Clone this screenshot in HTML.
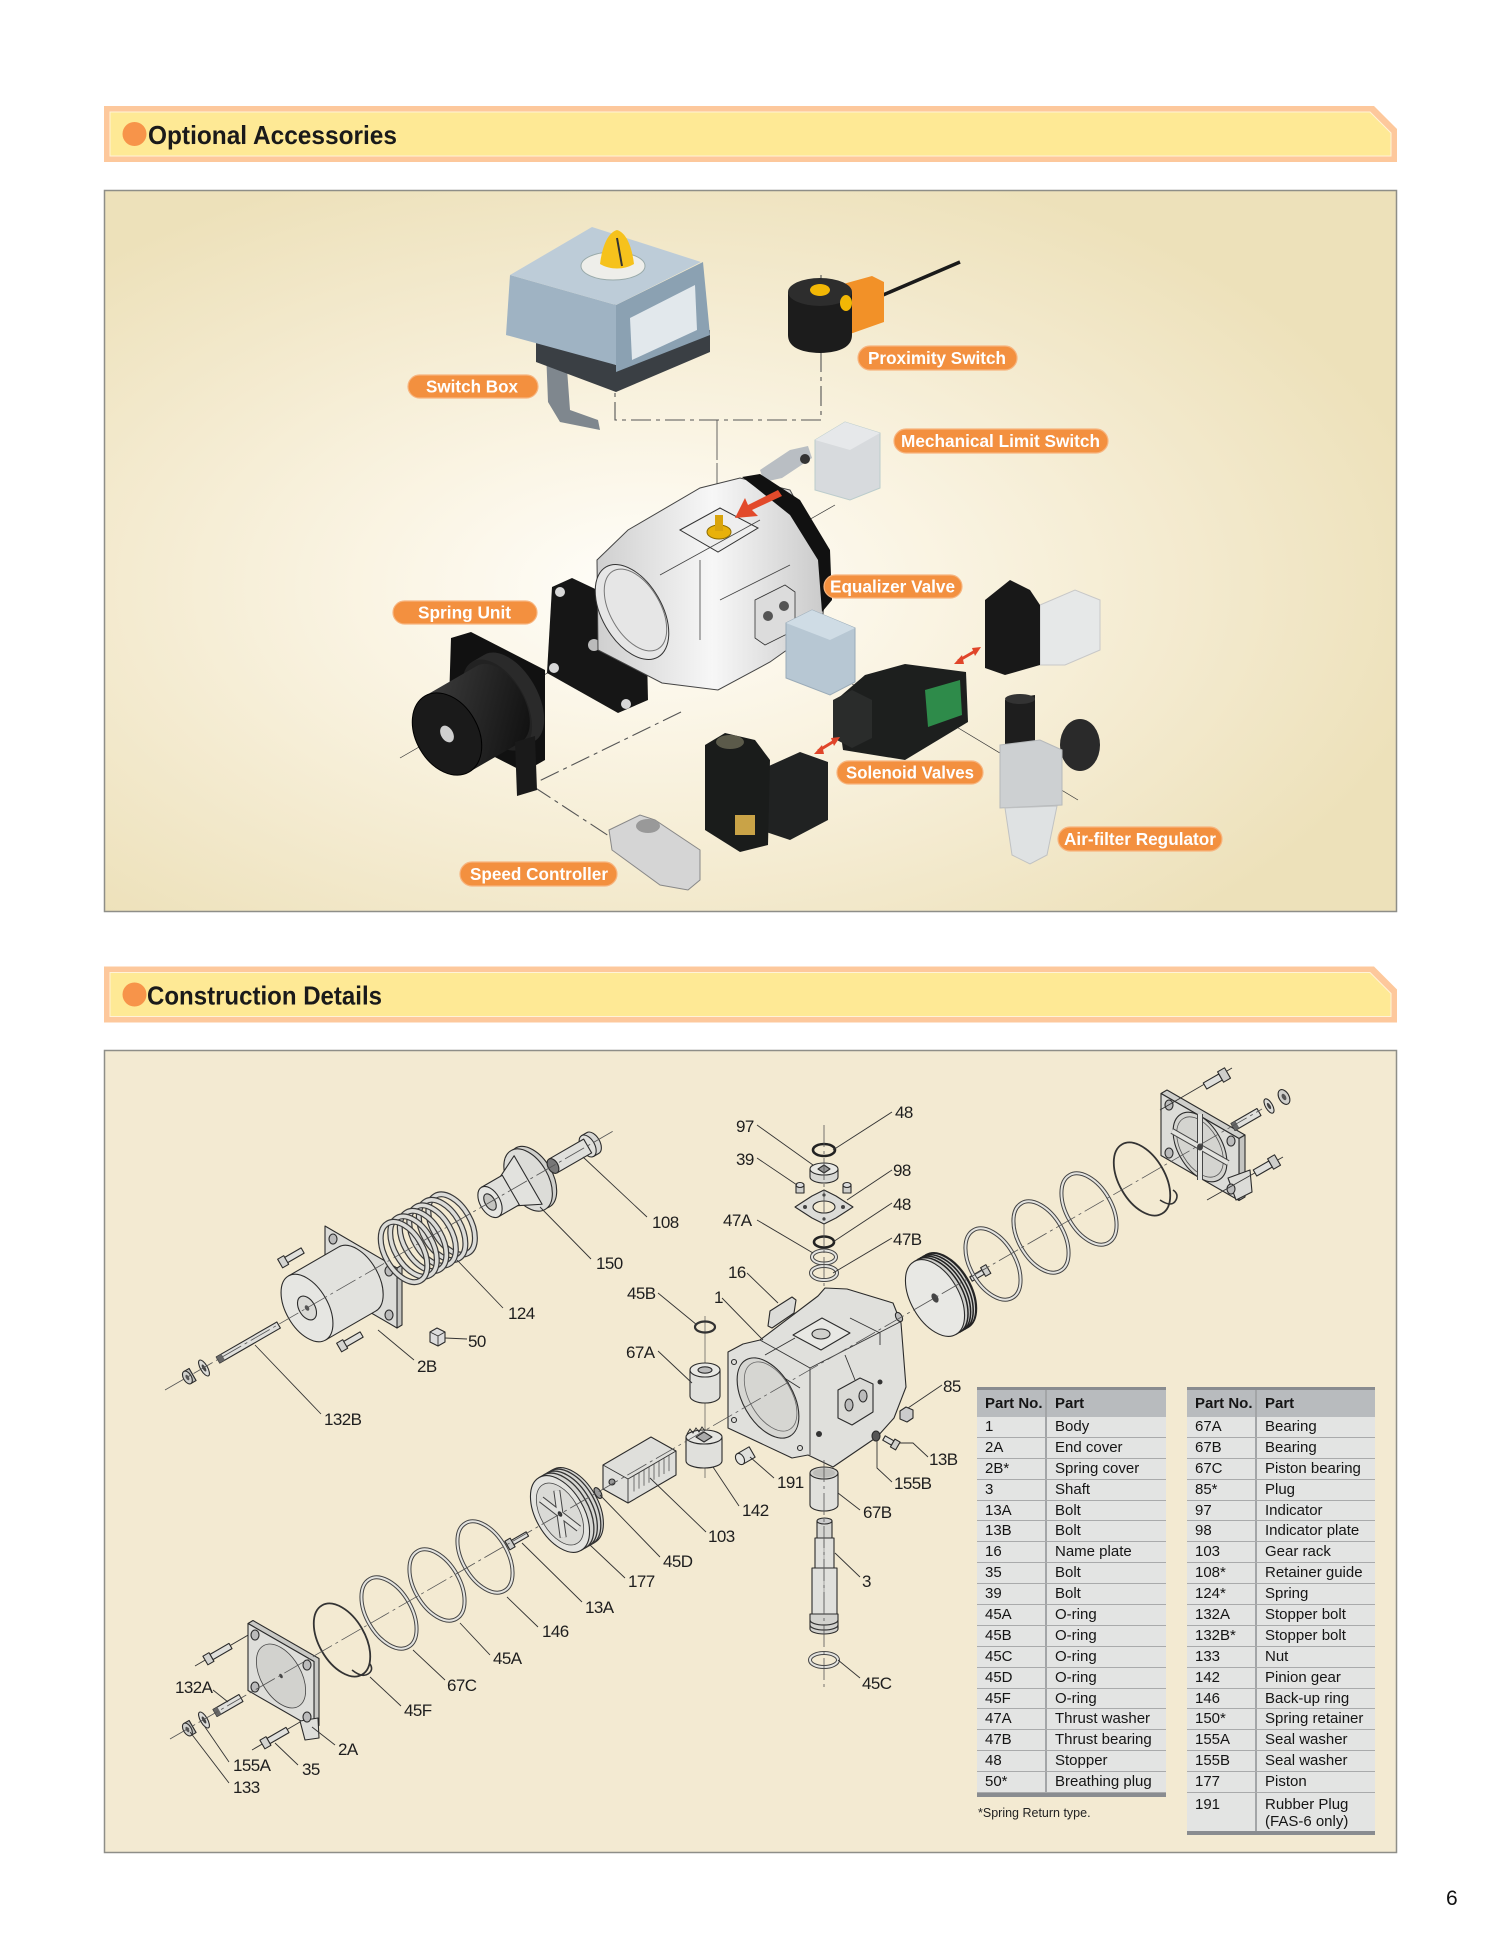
<!DOCTYPE html>
<html><head><meta charset="utf-8">
<style>
html,body{margin:0;padding:0;background:#fff;}
body{width:1500px;height:1953px;position:relative;overflow:hidden;font-family:"Liberation Sans",Arial,sans-serif;}
svg{position:absolute;left:0;top:0;}
.tb{position:absolute;font-size:15px;color:#151515;}
.tb .h{height:27px;border-top:3px solid #898c90;background:#b8bbbe;font-weight:bold;display:flex;line-height:28px;}
.tb .r{height:19.9px;border-bottom:1px solid #a9aaab;background:#e3e4e3;display:flex;line-height:20px;}
.tb .c1{width:70px;flex:none;padding-left:8px;border-right:2px solid #a3a5a7;box-sizing:border-box;}
.tb .c2{padding-left:8px;white-space:nowrap;}
.tb .end{height:4px;background:#898c90;}
.note{position:absolute;left:978px;top:1806px;font-size:12.5px;color:#222;}
.pg{position:absolute;left:1446px;top:1887px;font-size:21px;color:#111;}
</style></head><body>
<svg width="1500" height="1953" viewBox="0 0 1500 1953" xmlns="http://www.w3.org/2000/svg" font-family="Liberation Sans, Arial, sans-serif">
<defs>
<radialGradient id="g1" cx="0.42" cy="0.55" r="0.62" fx="0.42" fy="0.55">
<stop offset="0" stop-color="#fffefa"/><stop offset="0.35" stop-color="#faf4e3"/><stop offset="0.75" stop-color="#f2e8ca"/><stop offset="1" stop-color="#ede1ba"/>
</radialGradient>
<linearGradient id="gb" x1="0" y1="0" x2="1" y2="0"><stop offset="0" stop-color="#cfcfcf"/><stop offset="0.5" stop-color="#f7f7f7"/><stop offset="1" stop-color="#c9c9c9"/></linearGradient>
<linearGradient id="gk" x1="0" y1="0" x2="1" y2="1"><stop offset="0" stop-color="#3c3c3c"/><stop offset="1" stop-color="#0d0d0d"/></linearGradient>
<style>
.o{stroke:#2b2b2b;stroke-width:1.1;stroke-linejoin:round}
.f{fill:#e0e0dc}
.ld{stroke:#333;stroke-width:0.9;fill:none}
.ax{stroke:#555;stroke-width:0.8;fill:none;stroke-dasharray:22 4 3 4}
.lb{font-size:17px;fill:#1e1e1e;letter-spacing:-0.6px}
.pl{font-size:17.5px;font-weight:bold;fill:#fff}
.pr{fill:#f3903f;stroke:#f7b47e;stroke-width:1.2}
.dd{stroke:#555;stroke-width:1.1;fill:none;stroke-dasharray:20 5 4 5}
.bd{fill:none;stroke:#444;stroke-width:4}
.bl{fill:none;stroke:#e4e4e0;stroke-width:2}
</style>
</defs>

<!-- Header 1 -->
<path d="M104,106 H1374 L1397,129 V162 H104 Z" fill="#fdc89c"/>
<path d="M110,112 H1370 L1391,133 V156 H110 Z" fill="#fee995" stroke="#fff3d8" stroke-width="1"/>
<circle cx="134.5" cy="134" r="12" fill="#f7944a"/>
<text x="148" y="144" font-size="26" font-weight="bold" textLength="249" lengthAdjust="spacingAndGlyphs" fill="#1a1a1a">Optional Accessories</text>

<!-- Panel 1 -->
<rect x="104.5" y="190.5" width="1292" height="721" fill="url(#g1)" stroke="#8e8e88" stroke-width="1.5"/>

<!-- ===== Accessories drawings ===== -->
<polyline class="dd" points="615,300 615,420 821,420 821,272"/>
<line x1="717" y1="420" x2="717" y2="515" stroke="#555" stroke-width="0.9" stroke-dasharray="40 3"/>
<polyline class="dd" points="681,712 531,785 612,838"/>
<line x1="400" y1="758" x2="700" y2="585" stroke="#333" stroke-width="0.7"/>
<line x1="740" y1="615" x2="862" y2="690" stroke="#333" stroke-width="0.7"/>
<line x1="945" y1="720" x2="1078" y2="800" stroke="#333" stroke-width="0.7"/>
<line x1="800" y1="525" x2="835" y2="505" stroke="#333" stroke-width="0.7"/>

<!-- Switch box -->
<polygon points="546,350 566,355 570,410 598,420 600,430 560,422 548,402" fill="#7f878e"/>
<polygon points="536,337 616,365 710,330 710,352 616,392 536,362" fill="#3a3f44"/>
<polygon points="510,275 616,305 616,365 506,335" fill="#9fb3c3"/>
<polygon points="616,305 703,262 710,335 616,372" fill="#8ba1b2"/>
<polygon points="630,318 695,285 697,330 632,360" fill="#e2e8ec"/>
<polygon points="510,275 592,227 701,262 616,305" fill="#bdccd8"/>
<ellipse cx="613" cy="266" rx="32" ry="14" fill="#eeeeea" stroke="#9aa" stroke-width="1"/>
<path d="M600,264 C602,248 607,233 617,230 C627,233 632,248 634,264 C624,270 610,270 600,264 Z" fill="#f6c21c"/>
<line x1="617" y1="238" x2="622" y2="266" stroke="#333" stroke-width="2"/>

<!-- Proximity switch -->
<line x1="876" y1="298" x2="960" y2="262" stroke="#1a1a1a" stroke-width="3.5"/>
<polygon points="836,286 872,276 884,282 884,322 850,334 836,330" fill="#f29128"/>
<path d="M788,292 L788,335 Q788,352 820,353 Q852,352 852,335 L852,292 Z" fill="#1c1c1c"/>
<ellipse cx="820" cy="292" rx="32" ry="14" fill="#2d2d2d"/>
<ellipse cx="820" cy="290" rx="10" ry="6" fill="#f2b705"/>
<ellipse cx="846" cy="303" rx="6" ry="8" fill="#f2b705"/>

<!-- Mechanical limit switch -->
<polygon points="760,470 790,450 808,446 812,458 782,478 764,482" fill="#b9bec3"/>
<polygon points="815,440 845,422 880,433 880,488 850,500 815,490" fill="#d7dadd" stroke="#bcc" stroke-width="1"/>
<polygon points="815,440 845,422 880,433 850,450" fill="#e6e8ea"/>
<circle cx="805" cy="459" r="5" fill="#333"/>

<!-- Spring unit (black) -->
<polygon points="552,587 572,578 646,613 648,700 618,713 547,673" fill="#161616"/>
<circle cx="560" cy="592" r="5" fill="#d8d8d8"/>
<circle cx="640" cy="625" r="5" fill="#d8d8d8"/>
<circle cx="626" cy="704" r="5" fill="#d8d8d8"/>
<circle cx="554" cy="668" r="5" fill="#d8d8d8"/>
<circle cx="594" cy="645" r="6" fill="#bbb"/>
<polygon points="451,638 471,632 545,670 545,760 524,772 448,733" fill="#111"/>
<g transform="translate(447,734) rotate(-30)">
<path d="M58,-50 L72,-50 A28,50 0 0 1 72,50 L58,50 Z" fill="#2a2a2a"/>
<ellipse cx="58" rx="28" ry="50" fill="#222"/>
<path d="M0,-44 L60,-44 A25,44 0 0 1 60,44 L0,44 Z" fill="url(#gk)"/>
<ellipse cx="0" rx="31" ry="44" fill="#1a1a1a" stroke="#000"/>
<ellipse cx="0" rx="6" ry="9" fill="#cfcfcf"/>
</g>
<polygon points="515,742 535,736 537,790 517,796" fill="#1a1a1a"/>

<!-- Main actuator body -->
<polygon points="597,560 628,530 700,488 740,478 790,490 828,560 822,625 770,662 718,690 662,683 598,650" fill="url(#gb)" stroke="#444" stroke-width="1"/>
<path d="M742,477 L760,474 L800,500 L830,550 L832,600 L822,612 L818,560 L790,515 L755,487 Z" fill="#111"/>
<g transform="translate(632,612) rotate(-30)"><ellipse rx="30" ry="52" fill="#e6e6e6" stroke="#333"/><ellipse cx="4" rx="25" ry="45" fill="none" stroke="#777"/></g>
<polygon points="680,530 720,508 758,528 718,552" fill="#eeeeee" stroke="#333"/>
<ellipse cx="719" cy="532" rx="12" ry="7" fill="#e8b10a" stroke="#8a6a00"/>
<rect x="715" y="515" width="8" height="16" fill="#d9a40c"/>
<polygon points="778,490 748,505 745,498 735,518 758,516 752,510 782,496" fill="#e24a2b"/>
<polygon points="755,600 785,585 795,592 795,630 765,645 755,638" fill="#dcdcdc" stroke="#333" stroke-width="0.8"/>
<circle cx="768" cy="616" r="5" fill="#555"/><circle cx="784" cy="606" r="5" fill="#555"/>
<path d="M700,560 L700,640 M660,575 L760,520 M720,600 L790,565" stroke="#444" stroke-width="0.8" fill="none"/>

<!-- Equalizer valve -->
<polygon points="786,623 812,610 855,628 855,682 830,695 786,678" fill="#b7c7d3" stroke="#9aabb8"/>
<polygon points="786,623 812,610 855,628 830,640" fill="#cfdce5"/>

<!-- Center solenoid -->
<polygon points="836,700 865,675 905,664 966,672 968,722 905,760 843,750" fill="#1d1f1e"/>
<polygon points="925,690 960,680 962,715 928,727" fill="#2e8b4a"/>
<polygon points="833,700 852,690 872,700 872,738 852,748 833,738" fill="#2a2c2b"/>
<!-- Top-right solenoid -->
<polygon points="1040,605 1075,590 1100,600 1100,650 1065,665 1040,665" fill="#e6e8e8" stroke="#c8c8c8"/>
<polygon points="985,600 1010,580 1030,590 1040,605 1040,665 1005,675 985,668" fill="#181818"/>
<!-- Lower-left solenoid -->
<polygon points="760,770 800,752 828,762 828,820 790,840 760,830" fill="#202222"/>
<polygon points="705,745 725,733 755,740 770,760 768,845 740,852 705,830" fill="#1a1c1b"/>
<ellipse cx="730" cy="742" rx="14" ry="7" fill="#5b5a4a"/>
<rect x="735" y="815" width="20" height="20" fill="#c9a347"/>
<!-- Air filter regulator -->
<ellipse cx="1080" cy="745" rx="20" ry="26" fill="#2a2a2a"/>
<polygon points="1005,700 1035,695 1035,745 1005,748" fill="#1e1e1e"/>
<ellipse cx="1020" cy="699" rx="15" ry="5" fill="#333"/>
<polygon points="1000,745 1040,740 1062,750 1062,805 1000,808" fill="#cdd0d2" stroke="#b5b8ba"/>
<path d="M1005,808 L1057,806 L1047,855 L1030,864 L1012,855 Z" fill="#dfe2e3" stroke="#c0c2c3"/>
<!-- Speed controller -->
<polygon points="609,830 640,815 655,820 700,850 700,880 688,890 660,885 612,850" fill="#d5d5d5" stroke="#888"/>
<ellipse cx="648" cy="826" rx="12" ry="7" fill="#999"/>
<!-- red double arrows -->
<g stroke="#e0452a" stroke-width="3" fill="#e0452a">
<line x1="958" y1="661" x2="977" y2="650"/>
<polygon points="954,664 962,655 964,664" stroke="none"/><polygon points="981,647 972,648 975,656" stroke="none"/>
<line x1="818" y1="751" x2="836" y2="740"/>
<polygon points="814,754 822,745 824,754" stroke="none"/><polygon points="840,737 831,738 834,746" stroke="none"/>
</g>

<!-- pill labels -->
<rect class="pr" x="408" y="375" width="130" height="23" rx="11.5"/>
<text class="pl" x="426" y="392.5" textLength="92" lengthAdjust="spacingAndGlyphs">Switch Box</text>
<rect class="pr" x="858" y="346" width="159" height="24" rx="12"/>
<text class="pl" x="868" y="364" textLength="138" lengthAdjust="spacingAndGlyphs">Proximity Switch</text>
<rect class="pr" x="894" y="429" width="214" height="24" rx="12"/>
<text class="pl" x="901" y="447" textLength="199" lengthAdjust="spacingAndGlyphs">Mechanical Limit Switch</text>
<rect class="pr" x="824" y="575" width="138" height="23" rx="11.5"/>
<text class="pl" x="830" y="592.5" textLength="125" lengthAdjust="spacingAndGlyphs">Equalizer Valve</text>
<rect class="pr" x="393" y="601" width="144" height="23" rx="11.5"/>
<text class="pl" x="418" y="618.5" textLength="93" lengthAdjust="spacingAndGlyphs">Spring Unit</text>
<rect class="pr" x="837" y="761" width="146" height="23" rx="11.5"/>
<text class="pl" x="846" y="778.5" textLength="128" lengthAdjust="spacingAndGlyphs">Solenoid Valves</text>
<rect class="pr" x="1058" y="827" width="164" height="24" rx="12"/>
<text class="pl" x="1064" y="845" textLength="152" lengthAdjust="spacingAndGlyphs">Air-filter Regulator</text>
<rect class="pr" x="460" y="862" width="157" height="24" rx="12"/>
<text class="pl" x="470" y="880" textLength="138" lengthAdjust="spacingAndGlyphs">Speed Controller</text>

<!-- Header 2 -->
<path d="M104,966.5 H1374 L1397,989.5 V1022.5 H104 Z" fill="#fdc89c"/>
<path d="M110,972.5 H1370 L1391,993.5 V1016.5 H110 Z" fill="#fee995" stroke="#fff3d8" stroke-width="1"/>
<circle cx="134.5" cy="994.5" r="12" fill="#f7944a"/>
<text x="147" y="1004.5" font-size="26" font-weight="bold" textLength="235" lengthAdjust="spacingAndGlyphs" fill="#1a1a1a">Construction Details</text>

<!-- Panel 2 -->
<rect x="104.5" y="1050.5" width="1292" height="802" fill="#f3ead2" stroke="#8e8e88" stroke-width="1.5"/>

<!-- ===== Spring assembly (upper axis) ===== -->
<g transform="translate(190,1376) rotate(-30)">
<rect x="-3" y="-7" width="6" height="14" fill="#bdbdb9" class="o"/>
<ellipse cx="-3" rx="4" ry="7" fill="#d0d0cc" class="o"/><ellipse cx="-3" rx="1.5" ry="3" fill="#555"/>
</g>
<g transform="translate(204,1368) rotate(-30)"><ellipse rx="3.5" ry="9" fill="#dcdcd8" class="o"/><ellipse rx="1.5" ry="4" fill="#444"/></g>
<g transform="translate(218,1360) rotate(-30)"><rect x="0" y="-3.5" width="70" height="7" class="o f"/><rect x="0" y="-3.5" width="6" height="7" fill="#666"/></g>
<polygon points="397,1268 402,1265 402,1325 397,1328" fill="#c4c4c0" class="o"/>
<polygon points="325,1226 397,1268 397,1328 325,1286" fill="#dcdcd8" class="o"/>
<ellipse cx="333" cy="1239" rx="4" ry="5" fill="#bbb" class="o"/>
<ellipse cx="389" cy="1271" rx="4" ry="5" fill="#bbb" class="o"/>
<ellipse cx="389" cy="1315" rx="4" ry="5" fill="#bbb" class="o"/>
<ellipse cx="333" cy="1283" rx="4" ry="5" fill="#bbb" class="o"/>
<ellipse cx="371" cy="1305" rx="6" ry="7" fill="#d4d4d0" class="o"/>
<g transform="translate(307,1308) rotate(-30)">
<path d="M0,-37 L58,-37 A21,37 0 0 1 58,37 L0,37 Z" fill="#e2e2de" class="o"/>
<ellipse rx="21" ry="37" fill="#e6e6e2" class="o"/>
<ellipse rx="8" ry="13" fill="#dadad6" class="o"/>
<ellipse rx="2" ry="3" fill="#555"/>
</g>
<g transform="translate(281,1263) rotate(-30)"><rect x="5" y="-3" width="20" height="6" class="o f"/><rect x="-1" y="-5" width="7" height="10" class="o" fill="#d4d4d0"/></g>
<g transform="translate(340,1347) rotate(-30)"><rect x="5" y="-3" width="20" height="6" class="o f"/><rect x="-1" y="-5" width="7" height="10" class="o" fill="#d4d4d0"/></g>
<polygon points="430,1332 437,1328 445,1332 445,1342 438,1346 430,1342" fill="#ddd" class="o"/>
<line x1="430" y1="1332" x2="438" y2="1336" class="ld"/><line x1="438" y1="1336" x2="445" y2="1332" class="ld"/><line x1="438" y1="1336" x2="438" y2="1346" class="ld"/>
<g transform="translate(404,1252) rotate(-30)" fill="none">
<ellipse cx="55" rx="19" ry="33" stroke="#3a3a3a" stroke-width="6"/><ellipse cx="55" rx="19" ry="33" stroke="#dcdcd8" stroke-width="3.6"/>
<ellipse cx="44" rx="19" ry="33" stroke="#3a3a3a" stroke-width="6"/><ellipse cx="44" rx="19" ry="33" stroke="#dcdcd8" stroke-width="3.6"/>
<ellipse cx="33" rx="19" ry="33" stroke="#3a3a3a" stroke-width="6"/><ellipse cx="33" rx="19" ry="33" stroke="#dcdcd8" stroke-width="3.6"/>
<ellipse cx="22" rx="19" ry="33" stroke="#3a3a3a" stroke-width="6"/><ellipse cx="22" rx="19" ry="33" stroke="#dcdcd8" stroke-width="3.6"/>
<ellipse cx="11" rx="19" ry="33" stroke="#3a3a3a" stroke-width="6"/><ellipse cx="11" rx="19" ry="33" stroke="#dcdcd8" stroke-width="3.6"/>
<ellipse cx="0" rx="19" ry="33" stroke="#3a3a3a" stroke-width="6"/><ellipse cx="0" rx="19" ry="33" stroke="#dcdcd8" stroke-width="3.6"/>
</g>
<g transform="translate(490,1202) rotate(-30)">
<ellipse cx="49" rx="20" ry="34" class="o" fill="#cfcfcb"/>
<ellipse cx="44" rx="20" ry="34" class="o" fill="#dcdcd8"/>
<path d="M22,-17 L44,-28 L44,28 L22,17 Z" class="o" fill="#e2e2de"/>
<path d="M0,-17 L24,-17 L24,17 L0,17 Z" class="o f"/>
<ellipse rx="10" ry="17" class="o" fill="#e6e6e2"/>
<ellipse rx="5" ry="9" class="o" fill="#c4c4c0"/>
</g>
<g transform="translate(553,1166) rotate(-30)">
<path d="M40,-12 L46,-12 A7,12 0 0 1 46,12 L40,12 Z" class="o" fill="#d8d8d4"/>
<ellipse cx="40" rx="7" ry="12" class="o f"/>
<path d="M0,-8 L40,-8 L40,8 L0,8 Z" class="o f"/>
<ellipse rx="5" ry="8" class="o" fill="#777"/>
</g>

<!-- ===== Lower axis assembly ===== -->
<g transform="translate(190,1728) rotate(-30)">
<rect x="-3" y="-7" width="6" height="14" fill="#bdbdb9" class="o"/>
<ellipse cx="-3" rx="4" ry="7" fill="#d0d0cc" class="o"/><ellipse cx="-3" rx="1.5" ry="3" fill="#555"/>
</g>
<g transform="translate(204,1720) rotate(-30)"><ellipse rx="3.5" ry="9" fill="#dcdcd8" class="o"/><ellipse rx="1.5" ry="4" fill="#444"/></g>
<g transform="translate(215,1713) rotate(-30)"><rect x="0" y="-4" width="30" height="8" class="o f"/><rect x="0" y="-4" width="5" height="8" fill="#666"/></g>
<line x1="195" y1="1666" x2="262" y2="1627" class="ld" stroke-width="0.6"/>
<line x1="252" y1="1750" x2="300" y2="1722" class="ld" stroke-width="0.6"/>
<g transform="translate(208,1659) rotate(-30)"><rect x="4" y="-3" width="22" height="6" class="o f"/><rect x="-3" y="-5" width="7" height="10" class="o" fill="#d4d4d0"/></g>
<g transform="translate(265,1743) rotate(-30)"><rect x="4" y="-3" width="22" height="6" class="o f"/><rect x="-3" y="-5" width="7" height="10" class="o" fill="#d4d4d0"/></g>
<polygon points="253,1620.5 319,1658.5 319,1725.5 314,1728.5 314,1661.5 248,1623.5" fill="#c9c9c5" class="o"/>
<polygon points="248,1623.5 314,1661.5 314,1728.5 248,1690.5" fill="#dededa" class="o"/>
<polygon points="300,1721 318,1718 319,1738 305,1740" fill="#dededa" class="o"/>
<g transform="translate(281,1676) rotate(-30)"><ellipse rx="20" ry="35" fill="#d2d2ce" stroke="#444" stroke-width="0.8"/><ellipse rx="1.5" ry="2.5" fill="#444"/></g>
<ellipse cx="255" cy="1635" rx="4" ry="5" fill="#bbb" class="o"/>
<ellipse cx="307" cy="1665" rx="4" ry="5" fill="#bbb" class="o"/>
<ellipse cx="307" cy="1717" rx="4" ry="5" fill="#bbb" class="o"/>
<ellipse cx="255" cy="1687" rx="4" ry="5" fill="#bbb" class="o"/>
<g transform="translate(342,1640) rotate(-30)"><ellipse rx="23" ry="40" fill="none" stroke="#333" stroke-width="1.8"/></g>
<path d="M352,1670 q10,8 16,4 q6,-4 2,-10" fill="none" stroke="#333" stroke-width="1.6"/>
<g transform="translate(389,1613) rotate(-30)"><ellipse rx="22.5" ry="39" class="bd" stroke-width="4.2"/><ellipse rx="22.5" ry="39" class="bl" stroke-width="2.2"/></g>
<g transform="translate(437,1585) rotate(-30)"><ellipse rx="22.5" ry="39" class="bd" stroke-width="4.2"/><ellipse rx="22.5" ry="39" class="bl" stroke-width="2.2"/></g>
<g transform="translate(485,1557) rotate(-30)"><ellipse rx="22.5" ry="39" class="bd" stroke-width="3.2"/><ellipse rx="22.5" ry="39" class="bl" stroke-width="1.2"/></g>
<g transform="translate(510,1544) rotate(-30)"><rect x="3" y="-2.5" width="17" height="5" class="o f"/><rect x="-3" y="-5" width="6" height="10" class="o" fill="#cfcfcb"/></g>
<g transform="translate(560,1514) rotate(-30)">
<path d="M0,-42 L16,-42 A24,42 0 0 1 16,42 L0,42 Z" class="o" fill="#d6d6d2"/>
<path d="M5,-42 A24,42 0 0 1 5,42 M9,-42 A24,42 0 0 1 9,42 M13,-42 A24,42 0 0 1 13,42" fill="none" stroke="#333" stroke-width="1.3"/>
<ellipse rx="24" ry="42" class="o" fill="#e4e4e0"/>
<ellipse rx="19" ry="34" fill="#dadad6" stroke="#444" stroke-width="0.8"/>
<path d="M-9,-22 L9,22 M9,-22 L-9,22" stroke="#444" stroke-width="7"/>
<path d="M-9,-22 L9,22 M9,-22 L-9,22" stroke="#e2e2de" stroke-width="5"/>
<ellipse rx="2" ry="3" fill="#333"/>
</g>
<g transform="translate(598,1493) rotate(-30)"><ellipse rx="3" ry="6" fill="#999" class="o"/></g>
<polygon points="603,1465 651,1437 676,1451 676,1475 628,1503 603,1489" fill="#dfdfdb" class="o"/>
<polyline points="603,1465 628,1479 676,1451" class="ld"/>
<line x1="628" y1="1479" x2="628" y2="1503" class="ld"/>
<g stroke="#555" stroke-width="0.8">
<line x1="634" y1="1475.5" x2="634" y2="1491.5"/><line x1="639" y1="1472.6" x2="639" y2="1488.6"/><line x1="644" y1="1469.7" x2="644" y2="1485.7"/><line x1="649" y1="1466.8" x2="649" y2="1482.8"/><line x1="654" y1="1463.8" x2="654" y2="1479.8"/><line x1="659" y1="1460.9" x2="659" y2="1476.9"/><line x1="664" y1="1458" x2="664" y2="1474"/><line x1="669" y1="1455.1" x2="669" y2="1471.1"/>
</g>
<circle cx="612" cy="1482" r="3" fill="#999" class="o"/>
<line x1="705" y1="1316" x2="705" y2="1478" stroke="#555" stroke-width="0.7"/>
<path d="M686,1437 L686,1461 A18,7 0 0 0 722,1461 L722,1437 Z" class="o f"/>
<ellipse cx="704" cy="1437" rx="18" ry="7" class="o" fill="#e6e6e2"/>
<polygon points="704,1432 712,1437 704,1442 696,1437" fill="#aaa" class="o"/>
<path d="M687,1434 l3,-5 l3,4 l3,-5 l3,4 l3,-5 l3,4" fill="none" stroke="#333" stroke-width="1"/>
<path d="M690,1370 L690,1396 A15,7 0 0 0 720,1396 L720,1370 Z" class="o f"/>
<ellipse cx="705" cy="1370" rx="15" ry="7" class="o" fill="#e8e8e4"/>
<ellipse cx="705" cy="1370" rx="7" ry="3.2" class="o" fill="#bbb"/>
<ellipse cx="705" cy="1327" rx="10" ry="5.5" fill="none" stroke="#333" stroke-width="2.2"/>
<g transform="translate(740,1459) rotate(-30)"><rect x="0" y="-6" width="14" height="12" class="o f"/><ellipse rx="4" ry="6" class="o" fill="#e6e6e2"/></g>
<polygon points="728,1352 743,1344 760,1340 818,1296 825,1288 847,1289 893,1303 901,1323 906,1387 894,1418 877,1437 833,1467 808,1455 792,1458 728,1428" class="o" fill="#e0e0dc"/>
<polyline points="760,1340 810,1368 810,1455" class="ld"/>
<polyline points="810,1368 900,1322" class="ld"/>
<polygon points="793,1335 822,1318 850,1333 821,1350" fill="#e8e8e4" class="o"/>
<ellipse cx="821" cy="1334" rx="9" ry="5" fill="#d0d0cc" class="o"/>
<path d="M765,1355 L795,1338 M850,1318 L880,1333 L880,1345 M775,1372 L800,1388 M845,1355 L855,1380" class="ld"/>
<g transform="translate(768,1398) rotate(-30)"><ellipse rx="25" ry="44" class="o" fill="#d6d6d2"/><ellipse cx="3" rx="21" ry="38" fill="none" stroke="#666" stroke-width="0.8"/></g>
<circle cx="734" cy="1362" r="2.5" fill="none" class="o"/><circle cx="734" cy="1420" r="2.5" fill="none" class="o"/><circle cx="800" cy="1448" r="2.5" fill="none" class="o"/>
<polygon points="838,1390 860,1378 873,1384 873,1412 852,1425 838,1418" fill="#dadad6" class="o"/>
<ellipse cx="849" cy="1405" rx="4" ry="6" fill="#bbb" class="o"/><ellipse cx="863" cy="1396" rx="4" ry="6" fill="#bbb" class="o"/>
<circle cx="819" cy="1434" r="3" fill="#333"/><circle cx="880" cy="1382" r="2.5" fill="#333"/>
<polygon points="768,1326 770,1311 792,1297 796,1300 794,1313 772,1328" fill="#dcdcd8" class="o"/>
<ellipse cx="824" cy="1150" rx="11" ry="6" fill="none" stroke="#222" stroke-width="2.6"/>
<path d="M810,1169 L810,1177 A14,6 0 0 0 838,1177 L838,1169 Z" class="o" fill="#d8d8d4"/>
<ellipse cx="824" cy="1169" rx="14" ry="6" class="o" fill="#e8e8e4"/>
<polygon points="824,1165 830,1169 824,1173 818,1169" fill="#999" class="o"/>
<rect x="796" y="1185" width="8" height="8" class="o" fill="#cfcfcb"/><ellipse cx="800" cy="1185" rx="4" ry="2.5" class="o" fill="#ddd"/>
<rect x="843" y="1185" width="8" height="8" class="o" fill="#cfcfcb"/><ellipse cx="847" cy="1185" rx="4" ry="2.5" class="o" fill="#ddd"/>
<polygon points="795,1207 812,1196 824,1190 836,1196 853,1207 836,1218 824,1224 812,1218" fill="#dcdcd8" class="o"/>
<ellipse cx="824" cy="1207" rx="11" ry="6" fill="#f3ead2" class="o"/>
<circle cx="805" cy="1207" r="2" fill="#444"/><circle cx="843" cy="1207" r="2" fill="#444"/><circle cx="824" cy="1195" r="1.6" fill="#444"/><circle cx="824" cy="1219" r="1.6" fill="#444"/>
<ellipse cx="824" cy="1242" rx="10" ry="5.5" fill="none" stroke="#222" stroke-width="2.6"/>
<ellipse cx="824" cy="1257" rx="12" ry="6.5" class="bd" stroke-width="3.5"/><ellipse cx="824" cy="1257" rx="12" ry="6.5" class="bl" stroke-width="1.8"/>
<ellipse cx="824" cy="1273" rx="13" ry="7" class="bd" stroke-width="3.5"/><ellipse cx="824" cy="1273" rx="13" ry="7" class="bl" stroke-width="1.8"/>
<polygon points="900,1411 906,1407 913,1410 913,1418 907,1422 900,1419" fill="#ccc" class="o"/>
<g transform="translate(899,1317) rotate(-30)"><ellipse rx="3" ry="5" fill="#bbb" class="o"/></g>
<ellipse cx="876" cy="1436" rx="4" ry="5" fill="#555" class="o"/>
<g transform="translate(884,1438) rotate(30)"><rect x="0" y="-2.5" width="10" height="5" class="o f"/><rect x="10" y="-4.5" width="6" height="9" class="o" fill="#cfcfcb"/></g>
<path d="M810,1473 L810,1505 A14,6 0 0 0 838,1505 L838,1473 Z" class="o f"/>
<ellipse cx="824" cy="1473" rx="14" ry="6" class="o" fill="#d0d0cc"/>
<ellipse cx="824" cy="1473" rx="11" ry="4.5" fill="#bdbdb9"/>
<rect x="812" y="1568" width="25" height="46" class="o f"/>
<rect x="815" y="1538" width="19" height="30" class="o f"/>
<rect x="817" y="1521" width="15" height="17" class="o" fill="#d6d6d2"/>
<ellipse cx="824.5" cy="1521" rx="7.5" ry="3" class="o" fill="#ccc"/>
<path d="M810,1614 L810,1629 A14,5 0 0 0 838,1629 L838,1614 Z" class="o" fill="#d2d2ce"/>
<path d="M810,1620 A14,5 0 0 0 838,1620 M810,1625 A14,5 0 0 0 838,1625" fill="none" stroke="#333" stroke-width="1.2"/>
<line x1="824" y1="1540" x2="824" y2="1612" stroke="#999" stroke-width="0.8"/>
<ellipse cx="824" cy="1660" rx="14" ry="7" class="bd" stroke-width="3.2"/><ellipse cx="824" cy="1660" rx="14" ry="7" class="bl" stroke-width="1.5"/>
<g transform="translate(935,1298) rotate(-30)">
<path d="M0,-42 L14,-42 A24,42 0 0 1 14,42 L0,42 Z" class="o" fill="#cfcfcb"/>
<path d="M4,-42 A24,42 0 0 1 4,42 M7,-42 A24,42 0 0 1 7,42 M10,-42 A24,42 0 0 1 10,42 M13,-42 A24,42 0 0 1 13,42" fill="none" stroke="#222" stroke-width="1.5"/>
<ellipse rx="24" ry="42" class="o" fill="#e8e8e4"/>
<ellipse rx="3" ry="5" fill="#444"/>
</g>
<g transform="translate(971,1279) rotate(-30)"><rect x="0" y="-2.5" width="14" height="5" class="o f"/><rect x="14" y="-5" width="6" height="10" class="o" fill="#cfcfcb"/></g>
<g transform="translate(993,1264) rotate(-30)"><ellipse rx="22.5" ry="39" class="bd" stroke-width="4.2"/><ellipse rx="22.5" ry="39" class="bl" stroke-width="2.2"/></g>
<g transform="translate(1041,1237) rotate(-30)"><ellipse rx="22.5" ry="39" class="bd" stroke-width="4.2"/><ellipse rx="22.5" ry="39" class="bl" stroke-width="2.2"/></g>
<g transform="translate(1089,1209) rotate(-30)"><ellipse rx="22.5" ry="39" class="bd" stroke-width="3.2"/><ellipse rx="22.5" ry="39" class="bl" stroke-width="1.2"/></g>
<g transform="translate(1142,1179) rotate(-30)"><ellipse rx="23" ry="40" fill="none" stroke="#333" stroke-width="1.8"/></g>
<path d="M1160,1200 q12,8 16,0 q3,-6 -3,-10" fill="none" stroke="#333" stroke-width="1.6"/>
<polygon points="1161,1093.5 1167,1090 1245,1135 1239,1138.5" fill="#cfcfcb" class="o"/>
<polygon points="1239,1138.5 1245,1135 1245,1197 1239,1200.5" fill="#c4c4c0" class="o"/>
<polygon points="1161,1093.5 1239,1138.5 1239,1200.5 1161,1155.5" fill="#dcdcd8" class="o"/>
<polygon points="1228,1178 1250,1170 1252,1192 1236,1200" fill="#dcdcd8" class="o"/>
<g transform="translate(1200,1147) rotate(-30)"><ellipse rx="22" ry="38" fill="#d4d4d0" class="o"/><ellipse rx="19" ry="33" fill="none" stroke="#555" stroke-width="0.8"/></g>
<path d="M1200,1114 L1200,1180 M1172,1131 L1228,1163" stroke="#444" stroke-width="6"/>
<path d="M1200,1114 L1200,1180 M1172,1131 L1228,1163" stroke="#e2e2de" stroke-width="4"/>
<ellipse cx="1200" cy="1147" rx="3" ry="3.5" fill="#444"/>
<ellipse cx="1169" cy="1105" rx="4" ry="5" fill="#bbb" class="o"/>
<ellipse cx="1231" cy="1141" rx="4" ry="5" fill="#bbb" class="o"/>
<ellipse cx="1231" cy="1189" rx="4" ry="5" fill="#bbb" class="o"/>
<ellipse cx="1169" cy="1153" rx="4" ry="5" fill="#bbb" class="o"/>
<line x1="1160" y1="1110" x2="1232" y2="1068" class="ld" stroke-width="0.6"/>
<line x1="1207" y1="1200" x2="1283" y2="1157" class="ld" stroke-width="0.6"/>
<g transform="translate(1205,1086) rotate(-30)"><rect x="0" y="-3.5" width="18" height="7" class="o f"/><rect x="18" y="-6" width="8" height="12" class="o" fill="#cfcfcb"/></g>
<g transform="translate(1255,1173) rotate(-30)"><rect x="0" y="-3.5" width="18" height="7" class="o f"/><rect x="18" y="-6" width="8" height="12" class="o" fill="#cfcfcb"/></g>
<g transform="translate(1233,1127) rotate(-30)"><rect x="0" y="-4" width="30" height="8" class="o f"/><rect x="0" y="-4" width="5" height="8" fill="#666"/></g>
<g transform="translate(1269,1106) rotate(-30)"><ellipse rx="3.5" ry="8" fill="#dcdcd8" class="o"/><ellipse rx="1.5" ry="3.5" fill="#444"/></g>
<g transform="translate(1284,1097) rotate(-30)"><ellipse rx="5" ry="8" fill="#cfcfcb" class="o"/><ellipse rx="2" ry="3.5" fill="#555"/></g>

<!-- axes -->
<line class="ax" x1="165" y1="1390" x2="615" y2="1130"/>
<line class="ax" x1="170" y1="1739" x2="1262" y2="1109"/>
<line class="ax" x1="824" y1="1125" x2="824" y2="1290"/>
<line class="ax" x1="824" y1="1460" x2="824" y2="1690"/>

<!-- leader lines -->
<g class="ld">
<line x1="892" y1="1112" x2="833" y2="1150"/>
<line x1="757" y1="1125" x2="813" y2="1165"/>
<line x1="757" y1="1158" x2="797" y2="1185"/>
<line x1="892" y1="1170" x2="847" y2="1200"/>
<line x1="892" y1="1203" x2="833" y2="1242"/>
<line x1="757" y1="1220" x2="813" y2="1253"/>
<line x1="892" y1="1238" x2="833" y2="1273"/>
<line x1="647" y1="1217" x2="583" y2="1157"/>
<line x1="591" y1="1259" x2="540" y2="1207"/>
<line x1="747" y1="1273" x2="778" y2="1303"/>
<line x1="658" y1="1293" x2="697" y2="1325"/>
<line x1="722" y1="1298" x2="763" y2="1340"/>
<line x1="503" y1="1308" x2="457" y2="1260"/>
<line x1="467" y1="1339" x2="445" y2="1338"/>
<line x1="414" y1="1360" x2="378" y2="1330"/>
<line x1="658" y1="1351" x2="692" y2="1383"/>
<line x1="942" y1="1385" x2="908" y2="1408"/>
<line x1="321" y1="1414" x2="255" y2="1345"/>
<polyline points="928,1457 913,1443 900,1443"/>
<polyline points="892,1482 877,1468 877,1441"/>
<line x1="774" y1="1478" x2="750" y2="1457"/>
<line x1="739" y1="1506" x2="713" y2="1467"/>
<line x1="860" y1="1510" x2="838" y2="1493"/>
<line x1="706" y1="1532" x2="650" y2="1478"/>
<line x1="660" y1="1557" x2="600" y2="1495"/>
<line x1="625" y1="1578" x2="590" y2="1545"/>
<line x1="860" y1="1577" x2="835" y2="1553"/>
<line x1="582" y1="1602" x2="522" y2="1543"/>
<line x1="538" y1="1627" x2="507" y2="1597"/>
<line x1="490" y1="1655" x2="460" y2="1623"/>
<line x1="445" y1="1680" x2="413" y2="1650"/>
<line x1="401" y1="1706" x2="370" y2="1677"/>
<line x1="335" y1="1745" x2="312" y2="1727"/>
<line x1="298" y1="1765" x2="275" y2="1743"/>
<line x1="229" y1="1762" x2="205" y2="1727"/>
<line x1="229" y1="1783" x2="190" y2="1732"/>
<line x1="213" y1="1690" x2="228" y2="1702"/>
<line x1="860" y1="1678" x2="838" y2="1660"/>
</g>

<!-- labels -->
<g class="lb">
<text x="895" y="1118">48</text>
<text x="736" y="1132">97</text>
<text x="736" y="1165">39</text>
<text x="893" y="1176">98</text>
<text x="893" y="1210">48</text>
<text x="723" y="1226">47A</text>
<text x="893" y="1245">47B</text>
<text x="652" y="1228">108</text>
<text x="596" y="1269">150</text>
<text x="728" y="1278">16</text>
<text x="627" y="1299">45B</text>
<text x="714" y="1303">1</text>
<text x="508" y="1319">124</text>
<text x="468" y="1347">50</text>
<text x="417" y="1372">2B</text>
<text x="626" y="1358">67A</text>
<text x="943" y="1392">85</text>
<text x="324" y="1425">132B</text>
<text x="929" y="1465">13B</text>
<text x="777" y="1488">191</text>
<text x="894" y="1489">155B</text>
<text x="742" y="1516">142</text>
<text x="863" y="1518">67B</text>
<text x="708" y="1542">103</text>
<text x="663" y="1567">45D</text>
<text x="628" y="1587">177</text>
<text x="862" y="1587">3</text>
<text x="585" y="1613">13A</text>
<text x="542" y="1637">146</text>
<text x="493" y="1664">45A</text>
<text x="447" y="1691">67C</text>
<text x="175" y="1693">132A</text>
<text x="404" y="1716">45F</text>
<text x="338" y="1755">2A</text>
<text x="233" y="1771">155A</text>
<text x="302" y="1775">35</text>
<text x="233" y="1793">133</text>
<text x="862" y="1689">45C</text>
</g>
</svg>

<div class="tb" style="left:977px;top:1387px;width:189px;">
<div class="h"><div class="c1">Part No.</div><div class="c2">Part</div></div>
<div class="r"><div class="c1">1</div><div class="c2">Body</div></div>
<div class="r"><div class="c1">2A</div><div class="c2">End cover</div></div>
<div class="r"><div class="c1">2B*</div><div class="c2">Spring cover</div></div>
<div class="r"><div class="c1">3</div><div class="c2">Shaft</div></div>
<div class="r"><div class="c1">13A</div><div class="c2">Bolt</div></div>
<div class="r"><div class="c1">13B</div><div class="c2">Bolt</div></div>
<div class="r"><div class="c1">16</div><div class="c2">Name plate</div></div>
<div class="r"><div class="c1">35</div><div class="c2">Bolt</div></div>
<div class="r"><div class="c1">39</div><div class="c2">Bolt</div></div>
<div class="r"><div class="c1">45A</div><div class="c2">O-ring</div></div>
<div class="r"><div class="c1">45B</div><div class="c2">O-ring</div></div>
<div class="r"><div class="c1">45C</div><div class="c2">O-ring</div></div>
<div class="r"><div class="c1">45D</div><div class="c2">O-ring</div></div>
<div class="r"><div class="c1">45F</div><div class="c2">O-ring</div></div>
<div class="r"><div class="c1">47A</div><div class="c2">Thrust washer</div></div>
<div class="r"><div class="c1">47B</div><div class="c2">Thrust bearing</div></div>
<div class="r"><div class="c1">48</div><div class="c2">Stopper</div></div>
<div class="r"><div class="c1">50*</div><div class="c2">Breathing plug</div></div>
<div class="end"></div>
</div>
<div class="note">*Spring Return type.</div>

<div class="tb" style="left:1187px;top:1387px;width:188px;">
<div class="h"><div class="c1">Part No.</div><div class="c2">Part</div></div>
<div class="r"><div class="c1">67A</div><div class="c2">Bearing</div></div>
<div class="r"><div class="c1">67B</div><div class="c2">Bearing</div></div>
<div class="r"><div class="c1">67C</div><div class="c2">Piston bearing</div></div>
<div class="r"><div class="c1">85*</div><div class="c2">Plug</div></div>
<div class="r"><div class="c1">97</div><div class="c2">Indicator</div></div>
<div class="r"><div class="c1">98</div><div class="c2">Indicator plate</div></div>
<div class="r"><div class="c1">103</div><div class="c2">Gear rack</div></div>
<div class="r"><div class="c1">108*</div><div class="c2">Retainer guide</div></div>
<div class="r"><div class="c1">124*</div><div class="c2">Spring</div></div>
<div class="r"><div class="c1">132A</div><div class="c2">Stopper bolt</div></div>
<div class="r"><div class="c1">132B*</div><div class="c2">Stopper bolt</div></div>
<div class="r"><div class="c1">133</div><div class="c2">Nut</div></div>
<div class="r"><div class="c1">142</div><div class="c2">Pinion gear</div></div>
<div class="r"><div class="c1">146</div><div class="c2">Back-up ring</div></div>
<div class="r"><div class="c1">150*</div><div class="c2">Spring retainer</div></div>
<div class="r"><div class="c1">155A</div><div class="c2">Seal washer</div></div>
<div class="r"><div class="c1">155B</div><div class="c2">Seal washer</div></div>
<div class="r"><div class="c1">177</div><div class="c2">Piston</div></div>
<div class="r" style="height:38px;border-bottom:none;line-height:17px;"><div class="c1" style="padding-top:3px;">191</div><div class="c2" style="padding-top:3px;">Rubber Plug<br>(FAS-6 only)</div></div>
<div class="end"></div>
</div>

<div class="pg">6</div>
</body></html>
